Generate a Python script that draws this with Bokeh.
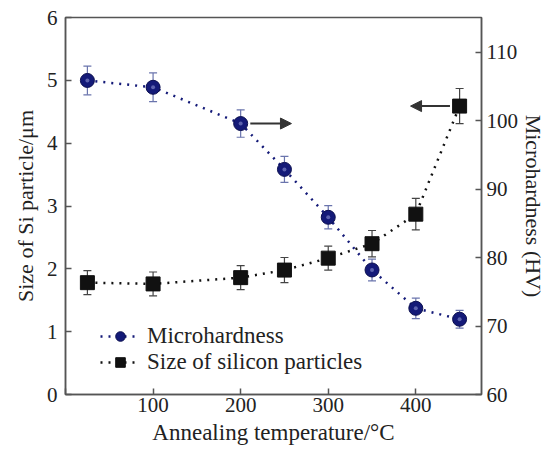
from bokeh.plotting import figure
from bokeh.models import (Range1d, LinearAxis, Whisker, ColumnDataSource, Arrow,
                          NormalHead, Legend, LegendItem, FixedTicker, TeeHead)
from bokeh.embed import file_html
from bokeh.resources import INLINE

# ---- data ----
temps = [25, 100, 200, 250, 300, 350, 400, 450]
hardness = [105.9, 104.9, 99.6, 92.9, 85.9, 78.2, 72.6, 71.0]
hardness_err = [2.1, 2.1, 2.0, 1.9, 1.7, 1.6, 1.5, 1.3]
si_size = [1.78, 1.76, 1.86, 1.98, 2.17, 2.40, 2.87, 4.59]
si_err = [0.19, 0.19, 0.19, 0.20, 0.19, 0.21, 0.25, 0.28]
x_ticks = [0, 100, 200, 300, 400]
left_ticks = [0, 1, 2, 3, 4, 5, 6]
right_ticks = [60, 70, 80, 90, 100, 110]

FONT = "Liberation Serif"
AX = "#555555"
NAVY = "#141a78"

p = figure(width=549, height=456, x_range=Range1d(0, 475), y_range=Range1d(0, 6),
           output_backend="svg", toolbar_location=None,
           min_border_left=65, min_border_right=68, min_border_top=17, min_border_bottom=62)
p.extra_y_ranges = {"hv": Range1d(60, 115.1)}
p.xgrid.visible = False
p.ygrid.visible = False
p.outline_line_color = AX
p.outline_line_width = 1.5

right = LinearAxis(y_range_name="hv")
p.add_layout(right, "right")

for ax in [p.xaxis[0], p.yaxis[0], right]:
    ax.axis_line_color = AX
    ax.axis_line_width = 1.5
    ax.major_tick_line_color = AX
    ax.major_tick_line_width = 1.5
    ax.major_tick_in = 6
    ax.major_tick_out = 0
    ax.minor_tick_line_color = None
    ax.major_label_text_font = FONT
    ax.major_label_text_font_size = "21px"
    ax.major_label_text_color = "#222222"
    ax.axis_label_text_font = FONT
    ax.axis_label_text_font_size = "22px"
    ax.axis_label_text_font_style = "normal"
    ax.axis_label_text_color = "#222222"

p.xaxis[0].ticker = FixedTicker(ticks=x_ticks)
p.xaxis[0].major_label_overrides = {0: ""}
p.xaxis[0].axis_label = "Annealing temperature/°C"
p.xaxis[0].axis_label_text_font_size = "23px"
p.xaxis[0].major_label_standoff = 3
p.xaxis[0].axis_label_standoff = 5

p.yaxis[0].ticker = FixedTicker(ticks=left_ticks)
p.yaxis[0].axis_label = "Size of Si particle/μm"
p.yaxis[0].major_label_standoff = 8
p.yaxis[0].axis_label_standoff = 6

right.ticker = FixedTicker(ticks=right_ticks)
right.axis_label = "Microhardness (HV)"
right.major_label_standoff = 5
right.axis_label_standoff = 0

hv_src = ColumnDataSource(dict(x=temps, y=hardness,
                               lo=[h - e for h, e in zip(hardness, hardness_err)],
                               up=[h + e for h, e in zip(hardness, hardness_err)]))
si_src = ColumnDataSource(dict(x=temps, y=si_size,
                               lo=[s - e for s, e in zip(si_size, si_err)],
                               up=[s + e for s, e in zip(si_size, si_err)]))

# error bars
wh1 = Whisker(base="x", lower="lo", upper="up", source=hv_src, y_range_name="hv",
              line_color="#6a74ad", line_width=1.2,
              upper_head=TeeHead(size=8, line_color="#6a74ad", line_width=1.2),
              lower_head=TeeHead(size=8, line_color="#6a74ad", line_width=1.2))
wh2 = Whisker(base="x", lower="lo", upper="up", source=si_src,
              line_color="#444444", line_width=1.2,
              upper_head=TeeHead(size=8, line_color="#444444", line_width=1.2),
              lower_head=TeeHead(size=8, line_color="#444444", line_width=1.2))
p.add_layout(wh1)
p.add_layout(wh2)

l1 = p.line("x", "y", source=hv_src, y_range_name="hv", line_color=NAVY,
            line_width=2.5, line_dash="2 6")
s1 = p.scatter("x", "y", source=hv_src, y_range_name="hv", marker="circle", size=14,
               fill_color=NAVY, line_color="#0c1050", line_width=1)
p.scatter("x", "y", source=hv_src, y_range_name="hv", marker="circle", size=4,
          fill_color="#b4bbf0", line_color=None, fill_alpha=0.45)
l2 = p.line("x", "y", source=si_src, line_color="#111111", line_width=2.5, line_dash="2 6")
s2 = p.scatter("x", "y", source=si_src, marker="square", size=14,
               fill_color="#111111", line_color="#111111")

# arrows pointing to the axis each series belongs to
p.add_layout(Arrow(end=NormalHead(size=11, fill_color="#333333", line_color="#333333"),
                   x_start=temps[2] + 11, y_start=hardness[2],
                   x_end=temps[2] + 58, y_end=hardness[2],
                   line_color="#333333", line_width=2, y_range_name="hv"))
p.add_layout(Arrow(end=NormalHead(size=11, fill_color="#333333", line_color="#333333"),
                   x_start=temps[7] - 11, y_start=si_size[7],
                   x_end=temps[7] - 56, y_end=si_size[7],
                   line_color="#333333", line_width=2))

legend = Legend(items=[LegendItem(label="Microhardness", renderers=[l1, s1]),
                       LegendItem(label="Size of silicon particles", renderers=[l2, s2])],
                location=(35, 19), background_fill_alpha=0, border_line_alpha=0,
                label_text_font=FONT, label_text_font_size="23px",
                label_text_color="#222222",
                glyph_width=40, glyph_height=24, label_height=24,
                spacing=0, padding=0, margin=0, label_standoff=7)
p.add_layout(legend)

open("out.html", "w").write(file_html(p, INLINE))
